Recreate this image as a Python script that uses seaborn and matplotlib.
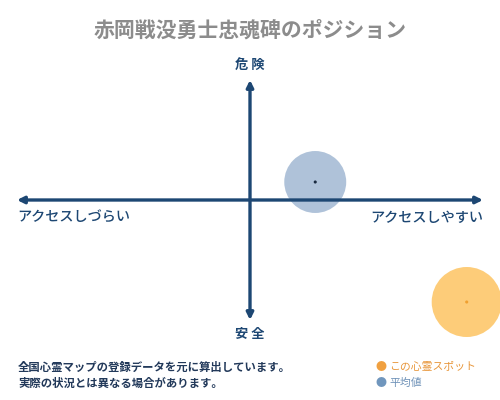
import pandas as pd
import matplotlib.pyplot as plt
import seaborn as sns

# position scores (-10..10): access (x), danger (y)
spots = ["この心霊スポット", "平均値"]
access = [9.3, 2.8]
danger = [-8.5, 1.5]

title = "赤岡戦没勇士忠魂碑のポジション"
notes = ["全国心霊マップの登録データを元に算出しています。", "実際の状況とは異なる場合があります。"]

sns.set_theme(style="white")
plt.rcParams['font.family'] = ['Noto Sans CJK JP', 'DejaVu Sans']

navy = "#1d4773"
df = pd.DataFrame({"name": spots, "x": access, "y": danger})

fig = plt.figure(figsize=(5, 4), dpi=100)
ax = fig.add_axes([17/500, 0.2, 466/500, 0.6])
ax.set_xlim(-10, 10)
ax.set_ylim(-10, 10)
ax.axis("off")

arrow = dict(arrowstyle="<|-|>", lw=2.4, color=navy, mutation_scale=10, shrinkA=0, shrinkB=0)
ax.annotate("", xy=(10, 0), xytext=(-10, 0), arrowprops=arrow)
ax.annotate("", xy=(0, 10), xytext=(0, -10), arrowprops=arrow)

sns.scatterplot(data=df, x="x", y="y", hue="name", size="name",
                palette={"この心霊スポット": "#fdc76a", "平均値": "#a7bcd5"},
                sizes={"この心霊スポット": 2540, "平均値": 1990},
                alpha=0.9, linewidth=0, legend=False, ax=ax, clip_on=False)
sns.scatterplot(data=df, x="x", y="y", hue="name",
                palette={"この心霊スポット": "#f0a030", "平均値": "#1a2a40"},
                s=5, linewidth=0, legend=False, ax=ax, clip_on=False)

ax.text(0, 10.7, "危 険", ha="center", va="bottom", fontsize=9.5, fontweight="bold", color=navy)
ax.text(0, -10.6, "安 全", ha="center", va="top", fontsize=9.5, fontweight="bold", color=navy)
ax.text(-10, -0.9, "アクセスしづらい", ha="left", va="top", fontsize=10.2, fontweight="medium", color=navy)
ax.text(10, -0.9, "アクセスしやすい", ha="right", va="top", fontsize=10.2, fontweight="medium", color=navy)

fig.text(0.5, 1 - 30/400, title, ha="center", va="center", fontsize=15,
         fontweight="bold", color="#8c8c8c")
fig.text(18/500, 1 - 367/400, notes[0], ha="left", va="center", fontsize=8.2,
         fontweight="bold", color="#22395a")
fig.text(18/500, 1 - 383/400, notes[1], ha="left", va="center", fontsize=8.2,
         fontweight="bold", color="#22395a")

fig.text(381/500, 1 - 367/400, "●", ha="center", va="center", fontsize=8, color="#f0a040")
fig.text(389/500, 1 - 367/400, spots[0], ha="left", va="center", fontsize=7.8, color="#e8963a")
fig.text(381/500, 1 - 383/400, "●", ha="center", va="center", fontsize=8, color="#7096bd")
fig.text(389/500, 1 - 383/400, spots[1], ha="left", va="center", fontsize=7.8, color="#6f92b8")

fig.savefig("out.png", dpi=100)
